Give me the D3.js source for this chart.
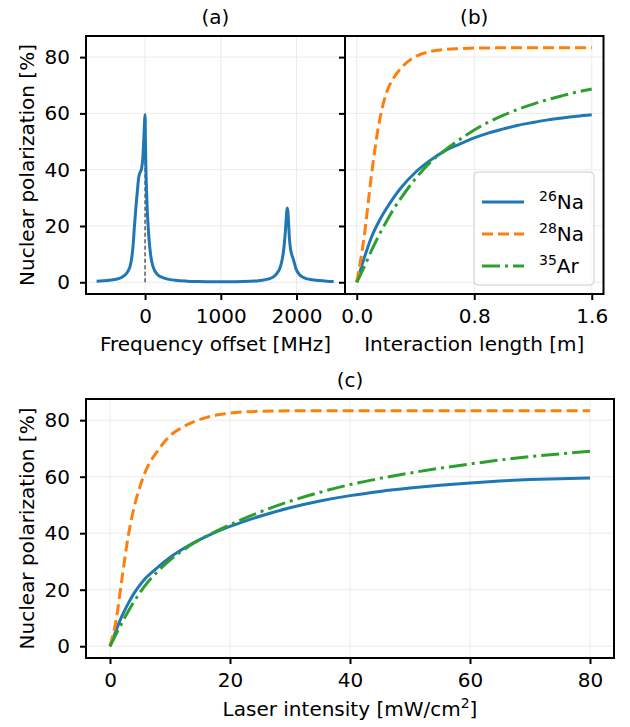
<!DOCTYPE html>
<html><head><meta charset="utf-8">
<script src="https://cdn.jsdelivr.net/npm/d3@7"></script>
<style>body{margin:0;background:#fff}text{font-family:"DejaVu Sans",sans-serif}</style>
</head><body><svg id="c" width="630" height="727"></svg>
<script>
// ---------- data ----------
const freqOffset = [-640,-550,-450,-350,-300,-250,-220,-200,-180,-160,-140,-120,-100,-85,-75,-60,-45,-30,-20,-10,-5,0,5,10,20,30,45,60,80,100,130,170,220,300,400,550,700,900,1100,1300,1450,1550,1620,1680,1720,1750,1780,1800,1820,1840,1855,1865,1875,1885,1895,1905,1920,1935,1950,1960,1975,1990,2010,2040,2080,2130,2200,2300,2400,2490];
const spectrumPol = [0.4,0.5,0.8,1.3,1.9,3.0,4.2,5.5,8,12.5,20,27,33,37,38.4,39.3,40.6,44,49,55,58,59.5,50,42,32,25,18,13,8.5,6,4,2.6,1.8,1.1,0.7,0.4,0.25,0.15,0.15,0.25,0.45,0.7,1.1,1.7,2.5,3.5,5,6.8,9.5,14,19,23,26.4,25.5,21,16,12,10,8.8,8,6.5,5,3.8,2.7,1.9,1.3,0.9,0.6,0.4,0.3];
const peakMarker = [0, 59.5];

const interactionLength = [0,0.05,0.1,0.15,0.2,0.25,0.3,0.4,0.5,0.6,0.7,0.8,0.9,1.0,1.1,1.2,1.3,1.4,1.5,1.6];
const na26Length = [0,8.5,16,21.5,26,30,33.5,39.1,43.3,46.7,49.1,51.3,53.1,54.5,55.8,56.8,57.7,58.4,59.0,59.5];
const na28Length = [0,16,38,56,67,72.5,76,80.2,82,82.7,83.0,83.2,83.25,83.3,83.3,83.3,83.3,83.3,83.3,83.3];
const ar35Length = [0,5.4,11.2,16.6,21.4,25.9,29.8,36.8,42.6,46.9,50.7,54.1,57,59.4,61.5,63.3,64.9,66.3,67.6,68.7];

const laserIntensity = [0,1,2,3,4,5,6,8,10,12,14,16,18,20,22,25,30,35,40,45,50,55,60,65,70,75,80];
const na26Intensity = [0,5.5,10.7,15,18.7,21.7,24.2,28,31.4,34.2,36.7,38.8,40.7,42.4,43.9,46.0,49.0,51.4,53.3,54.8,56.0,57.0,57.8,58.5,59.0,59.3,59.5];
const na28Intensity = [0,9,24,38.5,49,56.5,62.3,69.3,74.5,77.4,79.5,80.9,81.9,82.5,82.9,83.15,83.3,83.3,83.3,83.3,83.3,83.3,83.3,83.3,83.3,83.3,83.3];
const ar35Intensity = [0,4.2,8.3,12.2,15.8,19.0,21.9,26.6,30.5,33.7,36.5,38.9,41.0,43.0,44.9,47.5,51.3,54.5,57.2,59.4,61.3,63.0,64.5,65.9,67.1,68.1,69.0];

const seriesNames = ["26Na","28Na","35Ar"];
const seriesMass = ["26","28","35"];
const seriesElem = ["Na","Na","Ar"];
const yTicks = [0,20,40,60,80];
const xTicksA = [0,1000,2000];
const xTicksB = [0,0.8,1.6];
const xTicksC = [0,20,40,60,80];

// ---------- styles ----------
const colors = ["#1f77b4","#ff7f0e","#2ca02c"];
const dashes = [null,"11,5","18,5,3,5"];
const FS = 20;
const svg = d3.select("#c");
svg.append("rect").attr("width",630).attr("height",727).attr("fill","#fff");

function panel(box, xDom, xTicks){
  const x = d3.scaleLinear().domain(xDom).range([box.l, box.r]);
  const y = d3.scaleLinear().domain([-4.17, 87.5]).range([box.b, box.t]);
  const g = svg.append("g");
  g.selectAll(".gx").data(xTicks).join("line")
    .attr("x1",d=>x(d)).attr("x2",d=>x(d)).attr("y1",box.t).attr("y2",box.b)
    .attr("stroke","#ebebeb").attr("stroke-width",1);
  g.selectAll(".gy").data(yTicks).join("line")
    .attr("y1",d=>y(d)).attr("y2",d=>y(d)).attr("x1",box.l).attr("x2",box.r)
    .attr("stroke","#ebebeb").attr("stroke-width",1);
  return {x,y,g};
}

function axes(p, box, xTicks, fmt, showYLabels){
  const ax = svg.append("g").attr("transform",`translate(0,${box.b})`)
    .call(d3.axisBottom(p.x).tickValues(xTicks).tickFormat(fmt).tickSize(6).tickPadding(9));
  const ay = svg.append("g").attr("transform",`translate(${box.l},0)`)
    .call(d3.axisLeft(p.y).tickValues(yTicks).tickSize(6).tickPadding(10).tickFormat(showYLabels? d3.format("d") : ()=>""));
  [ax,ay].forEach(a=>{
    a.select(".domain").remove();
    a.selectAll(".tick line").attr("stroke","#000").attr("stroke-width",2);
    a.selectAll(".tick text").attr("font-size",FS).attr("fill","#000").attr("font-family","DejaVu Sans");
  });
  svg.append("rect").attr("x",box.l).attr("y",box.t).attr("width",box.r-box.l).attr("height",box.b-box.t)
    .attr("fill","none").attr("stroke","#000").attr("stroke-width",2);
}

function drawSeries(p, xs, ys, i){
  const line = d3.line().x((d,k)=>p.x(xs[k])).y(d=>p.y(d)).curve(d3.curveMonotoneX);
  p.g.append("path").attr("d",line(ys)).attr("fill","none").attr("stroke",colors[i])
    .attr("stroke-width",3).attr("stroke-dasharray",dashes[i]);
}

// ---------- panel (a) ----------
const boxA = {l:86,r:345,t:36,b:294};
const pA = panel(boxA,[-780,2640],xTicksA);
pA.g.append("line").attr("x1",pA.x(peakMarker[0])).attr("x2",pA.x(peakMarker[0]))
  .attr("y1",pA.y(0)).attr("y2",pA.y(peakMarker[1]))
  .attr("stroke","#333").attr("stroke-width",1.2).attr("stroke-dasharray","4,2.5");
drawSeries(pA, freqOffset, spectrumPol, 0);
axes(pA, boxA, xTicksA, d3.format("d"), true);

// ---------- panel (b) ----------
const boxB = {l:345,r:603.5,t:36,b:294};
const pB = panel(boxB,[-0.08,1.68],xTicksB);
drawSeries(pB, interactionLength, na26Length, 0);
drawSeries(pB, interactionLength, na28Length, 1);
drawSeries(pB, interactionLength, ar35Length, 2);
axes(pB, boxB, xTicksB, d3.format(".1f"), false);

// ---------- panel (c) ----------
const boxC = {l:86,r:614,t:399,b:658};
const pC = panel(boxC,[-4,84],xTicksC);
drawSeries(pC, laserIntensity, na26Intensity, 0);
drawSeries(pC, laserIntensity, na28Intensity, 1);
drawSeries(pC, laserIntensity, ar35Intensity, 2);
axes(pC, boxC, xTicksC, d3.format("d"), true);

// ---------- titles & labels ----------
function txt(x,y,s,opts={}){
  const t = svg.append("text").attr("x",x).attr("y",y).attr("font-size",opts.fs||FS)
    .attr("text-anchor",opts.anchor||"middle").attr("fill","#000").text(s);
  if(opts.rot) t.attr("transform",`rotate(-90,${x},${y})`);
  return t;
}
txt((boxA.l+boxA.r)/2, 24, "(a)");
txt((boxB.l+boxB.r)/2, 24, "(b)");
txt((boxC.l+boxC.r)/2, 387, "(c)");
txt((boxA.l+boxA.r)/2, 351, "Frequency offset [MHz]");
txt((boxB.l+boxB.r)/2, 351, "Interaction length [m]");
const xl = txt((boxC.l+boxC.r)/2, 716, "Laser intensity [mW/cm");
xl.append("tspan").attr("font-size",14).attr("dy",-8).text("2");
xl.append("tspan").attr("dy",8).text("]");
txt(34, (boxA.t+boxA.b)/2, "Nuclear polarization [%]", {rot:true});
txt(34, (boxC.t+boxC.b)/2, "Nuclear polarization [%]", {rot:true});

// ---------- legend ----------
const lg = svg.append("g");
lg.append("rect").attr("x",474).attr("y",172).attr("width",120).attr("height",113).attr("rx",4)
  .attr("fill","#fff").attr("fill-opacity",0.8).attr("stroke","#cccccc").attr("stroke-width",1);
seriesNames.forEach((n,i)=>{
  const cy = 202 + i*32;
  lg.append("line").attr("x1",482).attr("x2",524).attr("y1",cy).attr("y2",cy)
    .attr("stroke",colors[i]).attr("stroke-width",3).attr("stroke-dasharray",dashes[i]);
  const t = lg.append("text").attr("x",539).attr("y",cy+7).attr("font-size",FS).attr("fill","#000");
  t.append("tspan").attr("font-size",14).attr("dy",-8).text(seriesMass[i]);
  t.append("tspan").attr("dy",8).text(seriesElem[i]);
});
</script></body></html>
